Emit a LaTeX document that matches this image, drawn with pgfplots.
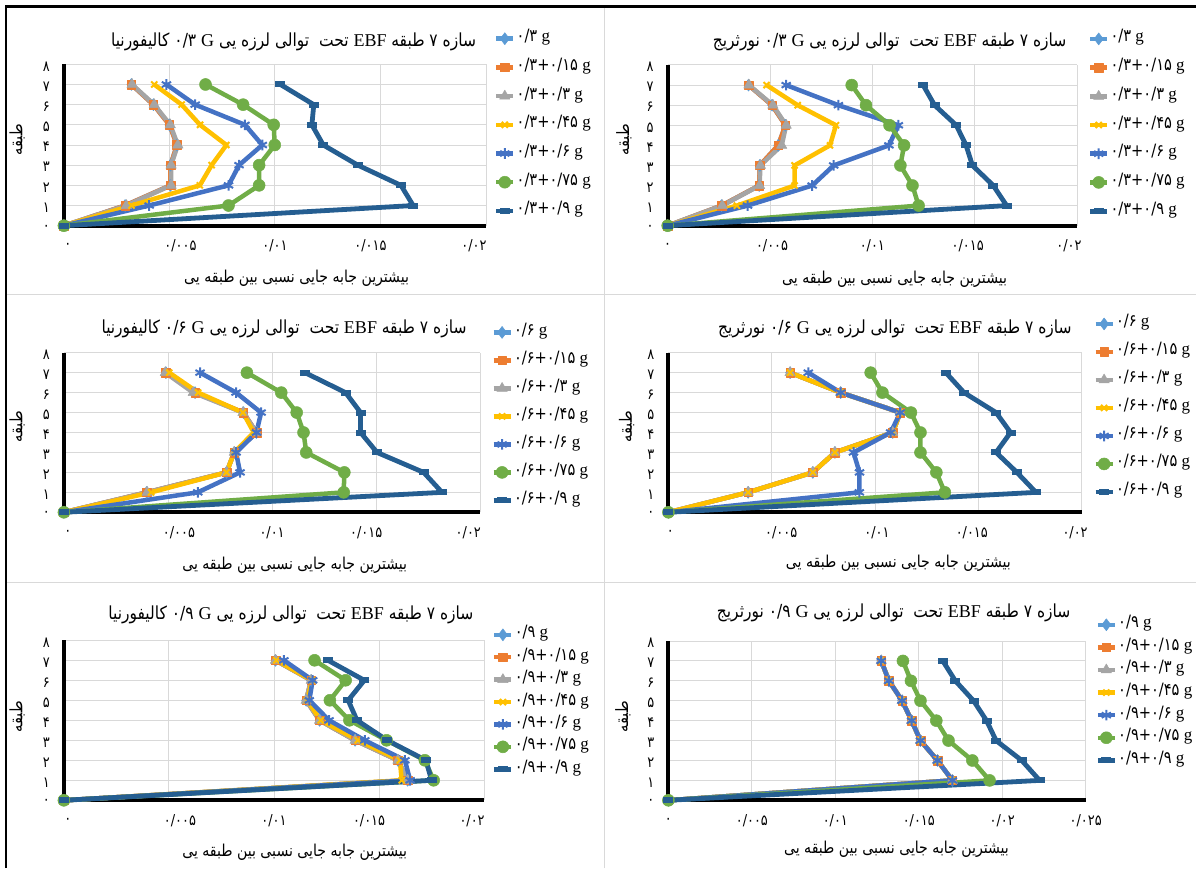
\documentclass[border=0pt]{standalone}
\usepackage{fontspec}
\setmainfont{Liberation Serif}
\newfontfamily\arabicfont[Script=Arabic, FakeStretch=0.86]{DejaVu Sans}
\TeXXeTstate=1
\usepackage{pgfplots}
\pgfplotsset{compat=1.18}
\definecolor{cA}{HTML}{5B9BD5}
\definecolor{cB}{HTML}{ED7D31}
\definecolor{cC}{HTML}{A5A5A5}
\definecolor{cD}{HTML}{FFC000}
\definecolor{cE}{HTML}{4472C4}
\definecolor{cF}{HTML}{70AD47}
\definecolor{cG}{HTML}{255E91}
\definecolor{gridc}{HTML}{D9D9D9}
\newcommand{\fa}{\arabicfont}
\newcommand{\ttl}[2]{\arabicfont\beginR سازه \beginL۷\endL{} طبقه \beginL{\rmfamily EBF}\endL{} تحت\ \ توالی لرزه یی \beginL{\rmfamily G}\endL{} \beginL#1\endL{} #2\endR}
\newcommand{\xl}{\arabicfont\beginR بیشترین جابه جایی نسبی بین طبقه یی\endR}
\pgfplotsset{
  panel/.style={
    scale only axis, clip=false,
    xmin=0, ymin=0, ymax=8,
    scaled x ticks=false,
    axis lines=left,
    axis line style={-, line width=4pt, black},
    grid=major,
    grid style={line width=1pt, gridc},
    major tick length=0pt,
    ytick={0,1,...,8},
    yticklabels={۰,۱,۲,۳,۴,۵,۶,۷,۸},
    tick label style={font=\arabicfont\fontsize{15}{16}\selectfont},
    xticklabel style={anchor=center, yshift=-20.5pt},
    yticklabel style={anchor=center, xshift=-17.5pt, yshift=-2pt},
    legend cell align=left,
    legend style={draw=none, fill=none, anchor=north west, inner sep=0pt,
      font=\fontsize{17}{19}\selectfont,
      nodes={inner sep=0pt, text height=9pt, text depth=3pt}, column sep=1pt},
    legend image code/.code={\draw[mark repeat=2,mark phase=2,#1] plot coordinates {(0pt,0pt) (8.5pt,0pt) (17pt,0pt)};},
    title style={font=\fontsize{18}{20}\selectfont, anchor=center, yshift=-11pt},
    xlabel style={font=\fontsize{16.4}{18}\selectfont, anchor=center},
    ylabel style={font=\arabicfont\fontsize{17}{19}\selectfont, anchor=center},
  },
  leftticks/.style={xtick={0,0.005,0.01,0.015,0.02},
    xticklabels={\hspace*{8pt}۰,\hspace*{22pt}۰/۰۰۵,۰/۰۱,۰/۰۱۵\hspace*{20pt},۰/۰۲\hspace*{24pt}}},
  sA/.style={cA, line width=4.5pt, line join=round, mark=diamond*, mark size=6pt, mark options={solid, line width=0.5pt}},
  sB/.style={cB, line width=4.5pt, line join=round, mark=square*, mark size=4.3pt, mark options={solid, line width=0.5pt}},
  sC/.style={cC, line width=4.5pt, line join=round, mark=triangle*, mark size=6pt, mark options={solid, line width=0.5pt}},
  sD/.style={cD, line width=4.5pt, line join=round, mark=x, mark size=4.3pt, mark options={solid, line width=2pt}},
  sE/.style={cE, line width=4.5pt, line join=round, mark=asterisk, mark size=5.3pt, mark options={solid, line width=2pt}},
  sF/.style={cF, line width=4.5pt, line join=round, mark=*, mark size=6pt, mark options={solid, line width=0.5pt}},
  sG/.style={cG, line width=4.8pt, line join=round, mark=-, mark size=5pt, mark options={solid, line width=6pt}},
}
\begin{document}
\begin{tikzpicture}[x=1pt,y=1pt]
\useasboundingbox (0,0) rectangle (1196,868);
% ---------- panel 1 ----------
\begin{axis}[panel, at={(63.9pt,642.3pt)}, anchor=south west, width=422.1pt, height=161.4pt,
  xmax=0.02, leftticks,
  title={\ttl{۰/۳}{کالیفورنیا}}, title style={at={(axis description cs:0.5440,1.1691)}},
  xlabel={\xl}, xlabel style={at={(axis description cs:0.5513,-0.3240)}},
  ylabel={طبقه}, ylabel style={at={(axis description cs:-0.1106,0.531)}},
  legend style={at={(axis description cs:1.0182,1.197)}, row sep=16.7pt},
  legend entries={{\fa ۰/۳} g,{\fa ۰/۳+۰/۱۵} g,{\fa ۰/۳+۰/۳} g,{\fa ۰/۳+۰/۴۵} g,{\fa ۰/۳+۰/۶} g,{\fa ۰/۳+۰/۷۵} g,{\fa ۰/۳+۰/۹} g}]
\addplot[sA] coordinates {(0,0) (0.0029,1) (0.00505,2) (0.00505,3) (0.00536,4) (0.005,5) (0.00424,6) (0.0032,7)};
\addplot[sB] coordinates {(0,0) (0.0029,1) (0.00505,2) (0.00505,3) (0.00536,4) (0.005,5) (0.00424,6) (0.0032,7)};
\addplot[sC] coordinates {(0,0) (0.00296,1) (0.00508,2) (0.00508,3) (0.0054,4) (0.00504,5) (0.00428,6) (0.00323,7)};
\addplot[sD] coordinates {(0,0) (0.0032,1) (0.00644,2) (0.007,3) (0.0077,4) (0.00645,5) (0.00558,6) (0.00428,7)};
\addplot[sE] coordinates {(0,0) (0.00404,1) (0.0078,2) (0.0083,3) (0.0094,4) (0.00858,5) (0.00622,6) (0.00486,7)};
\addplot[sF] coordinates {(0,0) (0.0078,1) (0.00925,2) (0.00925,3) (0.00999,4) (0.00994,5) (0.00849,6) (0.00671,7)};
\addplot[sG] coordinates {(0,0) (0.01655,1) (0.01597,2) (0.01393,3) (0.01229,4) (0.01175,5) (0.01184,6) (0.01026,7)};
\end{axis}
% ---------- panel 2 ----------
\begin{axis}[panel, at={(667.7pt,642.3pt)}, anchor=south west, width=409.3pt, height=160.7pt,
  xmax=0.02, xtick={0,0.005,0.01,0.015,0.02},
  xticklabels={۰,\hspace*{4pt}۰/۰۰۵,۰/۰۱,۰/۰۱۵\hspace*{14pt},۰/۰۲\hspace*{16pt}},
  title={\ttl{۰/۳}{نورثریج}}, title style={at={(axis description cs:0.5421,1.1742)}},
  xlabel={\xl}, xlabel style={at={(axis description cs:0.5544,-0.3317)}},
  ylabel={طبقه}, ylabel style={at={(axis description cs:-0.1070,0.5333)}},
  legend style={at={(axis description cs:1.0259,1.201)}, row sep=16.7pt},
  legend entries={{\fa ۰/۳} g,{\fa ۰/۳+۰/۱۵} g,{\fa ۰/۳+۰/۳} g,{\fa ۰/۳+۰/۴۵} g,{\fa ۰/۳+۰/۶} g,{\fa ۰/۳+۰/۷۵} g,{\fa ۰/۳+۰/۹} g}]
\addplot[sA] coordinates {(0,0) (0.00263,1) (0.00447,2) (0.0045,3) (0.0054,4) (0.00575,5) (0.0051,6) (0.00395,7)};
\addplot[sB] coordinates {(0,0) (0.00263,1) (0.00447,2) (0.0045,3) (0.0054,4) (0.00575,5) (0.0051,6) (0.00395,7)};
\addplot[sC] coordinates {(0,0) (0.00267,1) (0.00449,2) (0.00453,3) (0.00557,4) (0.00579,5) (0.00514,6) (0.00397,7)};
\addplot[sD] coordinates {(0,0) (0.00338,1) (0.0062,2) (0.0062,3) (0.00793,4) (0.00822,5) (0.00635,6) (0.00483,7)};
\addplot[sE] coordinates {(0,0) (0.0039,1) (0.00706,2) (0.00811,3) (0.01081,4) (0.01127,5) (0.00834,6) (0.00579,7)};
\addplot[sF] coordinates {(0,0) (0.01226,1) (0.01196,2) (0.01137,3) (0.01155,4) (0.01084,5) (0.00969,6) (0.00899,7)};
\addplot[sG] coordinates {(0,0) (0.01656,1) (0.01591,2) (0.01489,3) (0.01458,4) (0.0141,5) (0.01304,6) (0.01248,7)};
\end{axis}
% ---------- panel 3 ----------
\begin{axis}[panel, at={(63.9pt,355.7pt)}, anchor=south west, width=416.4pt, height=159.6pt,
  xmax=0.02, leftticks,
  title={\ttl{۰/۶}{کالیفورنیا}}, title style={at={(axis description cs:0.5286,1.178)}},
  xlabel={\xl}, xlabel style={at={(axis description cs:0.5543,-0.3302)}},
  ylabel={طبقه}, ylabel style={at={(axis description cs:-0.1122,0.5363)}},
  legend style={at={(axis description cs:1.0257,1.166)}, row sep=16pt},
  legend entries={{\fa ۰/۶} g,{\fa ۰/۶+۰/۱۵} g,{\fa ۰/۶+۰/۳} g,{\fa ۰/۶+۰/۴۵} g,{\fa ۰/۶+۰/۶} g,{\fa ۰/۶+۰/۷۵} g,{\fa ۰/۶+۰/۹} g}]
\addplot[sA] coordinates {(0,0) (0.00398,1) (0.00781,2) (0.00818,3) (0.00925,4) (0.00862,5) (0.0063,6) (0.0049,7)};
\addplot[sB] coordinates {(0,0) (0.00398,1) (0.00781,2) (0.00818,3) (0.00925,4) (0.00862,5) (0.0063,6) (0.0049,7)};
\addplot[sC] coordinates {(0,0) (0.004,1) (0.00781,2) (0.00818,3) (0.00925,4) (0.0086,5) (0.00621,6) (0.00487,7)};
\addplot[sD] coordinates {(0,0) (0.00419,1) (0.00781,2) (0.00818,3) (0.00912,4) (0.0086,5) (0.00645,6) (0.00506,7)};
\addplot[sE] coordinates {(0,0) (0.00643,1) (0.00846,2) (0.00827,3) (0.00925,4) (0.00947,5) (0.00827,6) (0.00654,7)};
\addplot[sF] coordinates {(0,0) (0.01344,1) (0.01347,2) (0.01164,3) (0.01151,4) (0.01118,5) (0.01044,6) (0.00879,7)};
\addplot[sG] coordinates {(0,0) (0.01816,1) (0.01728,2) (0.01504,3) (0.01425,4) (0.01425,5) (0.01353,6) (0.01158,7)};
\end{axis}
% ---------- panel 4 ----------
\begin{axis}[panel, at={(668.4pt,355.7pt)}, anchor=south west, width=413.2pt, height=159.6pt,
  xmax=0.02, xtick={0,0.005,0.01,0.015,0.02},
  xticklabels={\hspace*{4pt}۰,\hspace*{19pt}۰/۰۰۵,\hspace*{4pt}۰/۰۱,۰/۰۱۵\hspace*{13pt},۰/۰۲\hspace*{13pt}},
  title={\ttl{۰/۶}{نورثریج}}, title style={at={(axis description cs:0.5482,1.1798)}},
  xlabel={\xl}, xlabel style={at={(axis description cs:0.5566,-0.3195)}},
  ylabel={طبقه}, ylabel style={at={(axis description cs:-0.1012,0.5363)}},
  legend style={at={(axis description cs:1.0276,1.219)}, row sep=16pt},
  legend entries={{\fa ۰/۶} g,{\fa ۰/۶+۰/۱۵} g,{\fa ۰/۶+۰/۳} g,{\fa ۰/۶+۰/۴۵} g,{\fa ۰/۶+۰/۶} g,{\fa ۰/۶+۰/۷۵} g,{\fa ۰/۶+۰/۹} g}]
\addplot[sA] coordinates {(0,0) (0.00386,1) (0.00699,2) (0.00806,3) (0.01086,4) (0.01122,5) (0.00834,6) (0.00589,7)};
\addplot[sB] coordinates {(0,0) (0.00386,1) (0.00699,2) (0.00806,3) (0.01086,4) (0.01122,5) (0.00834,6) (0.00589,7)};
\addplot[sC] coordinates {(0,0) (0.00386,1) (0.00699,2) (0.00806,3) (0.01086,4) (0.01122,5) (0.00834,6) (0.00589,7)};
\addplot[sD] coordinates {(0,0) (0.00386,1) (0.00699,2) (0.00806,3) (0.01086,4) (0.01122,5) (0.00834,6) (0.00589,7)};
\addplot[sE] coordinates {(0,0) (0.00924,1) (0.00925,2) (0.00896,3) (0.01076,4) (0.01122,5) (0.00834,6) (0.00677,7)};
\addplot[sF] coordinates {(0,0) (0.01338,1) (0.01297,2) (0.0122,3) (0.0122,4) (0.01174,5) (0.01036,6) (0.00979,7)};
\addplot[sG] coordinates {(0,0) (0.01779,1) (0.01687,2) (0.01586,3) (0.01656,4) (0.01586,5) (0.01431,6) (0.01343,7)};
\end{axis}
% ---------- panel 5 ----------
\begin{axis}[panel, at={(63.9pt,67.7pt)}, anchor=south west, width=420.2pt, height=160pt,
  xmax=0.02, leftticks,
  title={\ttl{۰/۹}{کالیفورنیا}}, title style={at={(axis description cs:0.5402,1.1925)}},
  xlabel={\xl}, xlabel style={at={(axis description cs:0.5493,-0.3275)}},
  ylabel={طبقه}, ylabel style={at={(axis description cs:-0.1111,0.5225)}},
  legend style={at={(axis description cs:1.0183,1.073)}, row sep=10.4pt},
  legend entries={{\fa ۰/۹} g,{\fa ۰/۹+۰/۱۵} g,{\fa ۰/۹+۰/۳} g,{\fa ۰/۹+۰/۴۵} g,{\fa ۰/۹+۰/۶} g,{\fa ۰/۹+۰/۷۵} g,{\fa ۰/۹+۰/۹} g}]
\addplot[sA] coordinates {(0,0) (0.01636,1) (0.0159,2) (0.01386,3) (0.01217,4) (0.01153,5) (0.01177,6) (0.01007,7)};
\addplot[sB] coordinates {(0,0) (0.01636,1) (0.0159,2) (0.01386,3) (0.01217,4) (0.01153,5) (0.01177,6) (0.01007,7)};
\addplot[sC] coordinates {(0,0) (0.01636,1) (0.0159,2) (0.01386,3) (0.01217,4) (0.01153,5) (0.01177,6) (0.01007,7)};
\addplot[sD] coordinates {(0,0) (0.01608,1) (0.01599,2) (0.01399,3) (0.01222,4) (0.01158,5) (0.0118,6) (0.01011,7)};
\addplot[sE] coordinates {(0,0) (0.01648,1) (0.01623,2) (0.01432,3) (0.01262,4) (0.01168,5) (0.01184,6) (0.01047,7)};
\addplot[sF] coordinates {(0,0) (0.0176,1) (0.01718,2) (0.01536,3) (0.01359,4) (0.01266,5) (0.01341,6) (0.01193,7)};
\addplot[sG] coordinates {(0,0) (0.0175,1) (0.01723,2) (0.01539,3) (0.01395,4) (0.01353,5) (0.0143,6) (0.01257,7)};
\end{axis}
% ---------- panel 6 ----------
\begin{axis}[panel, at={(668.4pt,67.7pt)}, anchor=south west, width=417.3pt, height=159.3pt,
  xmax=0.025, xtick={0,0.005,0.01,0.015,0.02,0.025}, xticklabels={۰,۰/۰۰۵,۰/۰۱,۰/۰۱۵,۰/۰۲,۰/۰۲۵},
  title={\ttl{۰/۹}{نورثریج}}, title style={at={(axis description cs:0.5397,1.2072)}},
  xlabel={\xl}, xlabel style={at={(axis description cs:0.5466,-0.3076)}},
  ylabel={طبقه}, ylabel style={at={(axis description cs:-0.1093,0.5248)}},
  legend style={at={(axis description cs:1.0228,1.141)}, row sep=10.6pt},
  legend entries={{\fa ۰/۹} g,{\fa ۰/۹+۰/۱۵} g,{\fa ۰/۹+۰/۳} g,{\fa ۰/۹+۰/۴۵} g,{\fa ۰/۹+۰/۶} g,{\fa ۰/۹+۰/۷۵} g,{\fa ۰/۹+۰/۹} g}]
\addplot[sA] coordinates {(0,0) (0.01701,1) (0.01612,2) (0.0151,3) (0.01457,4) (0.014,5) (0.01321,6) (0.01275,7)};
\addplot[sB] coordinates {(0,0) (0.01701,1) (0.01612,2) (0.0151,3) (0.01457,4) (0.014,5) (0.01321,6) (0.01275,7)};
\addplot[sC] coordinates {(0,0) (0.01701,1) (0.01612,2) (0.0151,3) (0.01457,4) (0.014,5) (0.01321,6) (0.01275,7)};
\addplot[sD] coordinates {(0,0) (0.01701,1) (0.01612,2) (0.0151,3) (0.01457,4) (0.014,5) (0.01321,6) (0.01275,7)};
\addplot[sE] coordinates {(0,0) (0.01701,1) (0.01612,2) (0.0151,3) (0.01457,4) (0.014,5) (0.01321,6) (0.01275,7)};
\addplot[sF] coordinates {(0,0) (0.01924,1) (0.01821,2) (0.01678,3) (0.01605,4) (0.0151,5) (0.01453,6) (0.01405,7)};
\addplot[sG] coordinates {(0,0) (0.02224,1) (0.02117,2) (0.01963,3) (0.01906,4) (0.01828,5) (0.01719,6) (0.01644,7)};
\end{axis}
% ---------- panel frames ----------
\draw[gridc, line width=1.2pt] (604.3,0) -- (604.3,861);
\draw[gridc, line width=1.2pt] (6,573.7) -- (1196,573.7);
\draw[gridc, line width=1.2pt] (6,285.5) -- (1196,285.5);
\draw[black, line width=2.2pt] (5,861.5) -- (1196,861.5);
\draw[black, line width=2.2pt] (6,0) -- (6,862.6);
\end{tikzpicture}
\end{document}
